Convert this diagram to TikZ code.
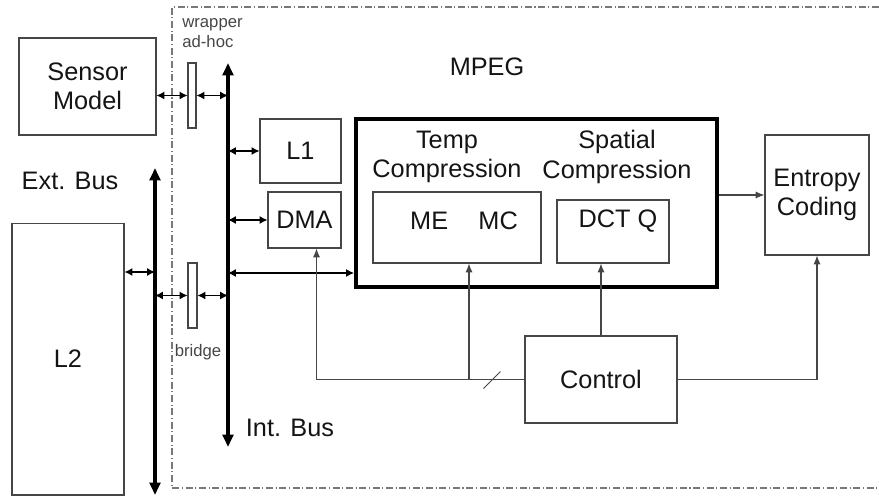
\documentclass[tikz,border=0pt]{standalone}
\usepackage{fontspec}
\setmainfont{Liberation Sans}
\usetikzlibrary{arrows.meta, calc}
\definecolor{inkc}{RGB}{20,20,20}
\definecolor{linec}{RGB}{70,70,70}
\definecolor{framec}{RGB}{120,120,120}
\tikzset{
  box/.style={
    rectangle, draw=linec, line width=0.6pt, inner sep=0pt,
    font=\fontsize{14.4}{16.8}\selectfont, text=inkc, align=center
  },
  slot/.style={box, fill=white},
  core/.style={box, draw=black, line width=2.3pt},
  lbl/.style={font=\fontsize{14.4}{16.8}\selectfont, text=inkc, align=center, inner sep=0pt},
  tag/.style={font=\fontsize{9.5}{11.4}\selectfont, text=linec, align=left, inner sep=0pt},
  arr/.style={-{Latex[length=5pt, width=4pt]}, line width=0.6pt, draw=linec},
  darr/.style={{Latex[length=4.5pt, width=4.5pt]}-{Latex[length=4.5pt, width=4.5pt]}, line width=0.6pt, draw=black},
  bus/.style={{Triangle[length=7pt, width=6pt]}-{Triangle[length=7pt, width=6pt]}, line width=2.3pt, draw=black},
  frame/.style={draw=framec, line width=0.6pt, dash pattern=on 4pt off 1.5pt on 0.6pt off 1.5pt},
}

\begin{document}
\begin{tikzpicture}[x=0.02cm, y=-0.02cm]

  \useasboundingbox (0,0) rectangle (879,497);

  % MPEG subsystem border, open on the right
  \draw[frame] (879,7) -- (172,7) -- (172,488) -- (879,488);

  % the two buses
  \coordinate (extTop) at (155,168);
  \coordinate (extBot) at (155,495);
  \coordinate (intTop) at (228,63);
  \coordinate (intBot) at (228,447);
  \draw[bus] (extBot) -- (extTop);
  \draw[bus] (intBot) -- (intTop);

  \node[box, minimum width=2.74cm, minimum height=1.94cm] (sensor) at (87.5,86.5) {Sensor\\Model};
  \node[box, minimum width=2.24cm, minimum height=5.44cm] (ltwo) at (68,359) {L2};
  \node[slot, minimum width=0.16cm, minimum height=1.3cm] (wrapper) at (192,95.5) {};
  \node[slot, minimum width=0.18cm, minimum height=1.3cm] (bridge) at (192.5,295.5) {};
  \node[box, minimum width=1.62cm, minimum height=1.28cm] (lone) at (300.5,151) {L1};
  \node[box, minimum width=1.46cm, minimum height=1.12cm] (dma) at (304.5,220) {DMA};

  \node[core, minimum width=7.22cm, minimum height=3.36cm] (mpeg) at (536.5,203) {};
  \node[box, minimum width=3.36cm, minimum height=1.42cm] (memc) at (457,227.5) {};
  \node[box, minimum width=2.24cm, minimum height=1.26cm] (dctq) at (613,231.5) {};
  \node[lbl] (temp) at (447,157) {Temp\\Compression};
  \node[lbl] (spatial) at (617,157) {Spatial\\Compression};
  \node[lbl] (memctext) at (464,221) {ME\hspace{1.2em}MC};
  \node[lbl] (dctqtext) at (618,221) {DCT Q};

  \node[box, minimum width=2.08cm, minimum height=2.4cm] (entropy) at (817,195) {Entropy\\Coding};
  \node[box, minimum width=3.04cm, minimum height=1.74cm] (control) at (601,379.5) {Control};

  \node[lbl] (mpegname) at (487,67) {MPEG};
  \node[lbl] (extname) at (70,181) {Ext. Bus};
  \node[lbl] (intname) at (290,428) {Int. Bus};
  \node[tag, anchor=west] (wrapname) at (182,33) {wrapper\\ad-hoc};
  \node[tag] (bridgename) at (198,352) {bridge};

  % bus taps
  \draw[darr] (sensor.east |- wrapper) -- (wrapper.west);
  \draw[darr] (wrapper.east) -- (intTop |- wrapper);
  \draw[darr] (intTop |- lone.west) -- (lone.west);
  \draw[darr] (intTop |- dma.west) -- (dma.west);
  \draw[darr] (intTop |- 0,273) -- (mpeg.west |- 0,273);
  \draw[darr] (ltwo.east |- 0,272) -- (extTop |- 0,272);
  \draw[darr] (extTop |- bridge) -- (bridge.west);
  \draw[darr] (bridge.east) -- (intTop |- bridge);

  \draw[arr] (mpeg.east |- entropy.west) -- (entropy.west);

  % control lines
  \coordinate (memin) at ($(memc.south)+(12,0)$);
  \draw[arr] (control.west) -| ($(dma.south)+(12,0)$);
  \draw[arr] (memin |- control.west) -- (memin);
  \draw[arr] (control.north) -- (control.north |- dctq.south);
  \draw[arr] (control.east) -| (entropy.south);
  \draw[linec, line width=0.5pt] ($(control.west)+(-41,9)$) -- ++(17,-17);

\end{tikzpicture}
\end{document}
